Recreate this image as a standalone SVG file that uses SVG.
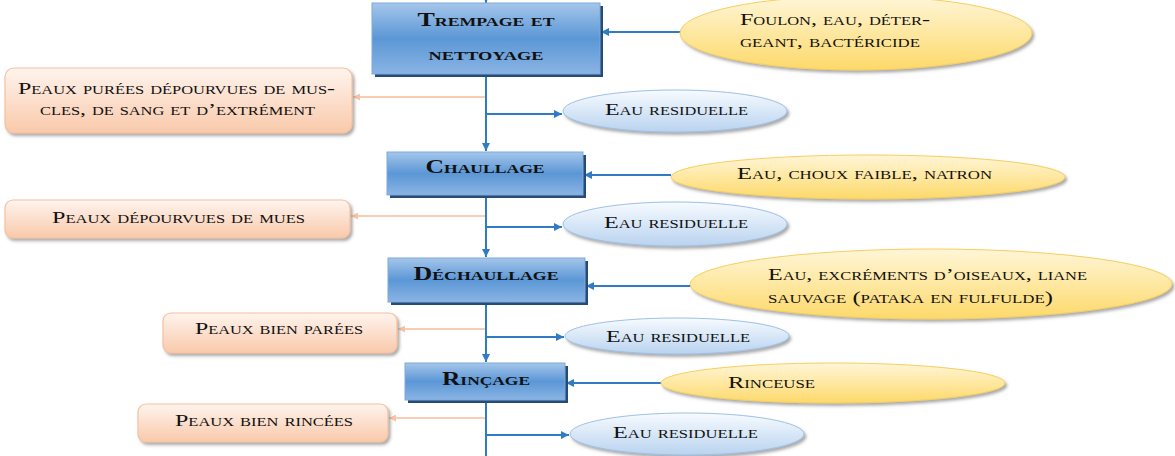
<svg xmlns="http://www.w3.org/2000/svg" width="1175" height="456" viewBox="0 0 1175 456">
  <defs>
    <linearGradient id="gBlue" x1="0" y1="0" x2="0" y2="1">
      <stop offset="0" stop-color="#a5c6ea"/>
      <stop offset="0.5" stop-color="#5b97d6"/>
      <stop offset="1" stop-color="#8ab4e4"/>
    </linearGradient>
    <linearGradient id="gPeach" x1="0" y1="0" x2="0" y2="1">
      <stop offset="0" stop-color="#fff4ee"/>
      <stop offset="1" stop-color="#f9c9aa"/>
    </linearGradient>
    <linearGradient id="gYellow" x1="0" y1="0" x2="0" y2="1">
      <stop offset="0" stop-color="#fff6d8"/>
      <stop offset="1" stop-color="#fdd96a"/>
    </linearGradient>
    <linearGradient id="gSky" x1="0" y1="0" x2="0" y2="1">
      <stop offset="0" stop-color="#f7fbff"/>
      <stop offset="1" stop-color="#b9d3ef"/>
    </linearGradient>
    <filter id="soft" x="-10%" y="-20%" width="125%" height="150%">
      <feDropShadow dx="2" dy="2.5" stdDeviation="1.4" flood-color="#6f6f6f" flood-opacity="0.6"/>
    </filter>
    <marker id="aBlue" viewBox="0 0 8 8" refX="8" refY="4" markerWidth="8" markerHeight="8" markerUnits="userSpaceOnUse" orient="auto">
      <path d="M0,0 L8,4 L0,8 z" fill="#2f7bc4"/>
    </marker>
    <marker id="aPeach" viewBox="0 0 8 8" refX="8" refY="4" markerWidth="7" markerHeight="7" markerUnits="userSpaceOnUse" orient="auto">
      <path d="M0,0 L8,4 L0,8 z" fill="#f6c3a3"/>
    </marker>
    <style>
      .step { fill: url(#gBlue); stroke: #7fa9dc; stroke-width: 1; }
      .stepShadow { fill: #274b77; }
      .out { fill: url(#gPeach); stroke: #f6c1a0; stroke-width: 1.2; filter: url(#soft); }
      .inp { fill: url(#gYellow); stroke: #f7cf5c; stroke-width: 1; filter: url(#soft); }
      .waste { fill: url(#gSky); stroke: #9fc1e6; stroke-width: 1; filter: url(#soft); }
      text { font-family: "Liberation Serif", "DejaVu Serif", serif; font-variant: small-caps; fill: #111; font-size: 17.5px; }
      .title { font-weight: bold; font-size: 19px; }
      .flow { stroke: #2f7bc4; stroke-width: 2; fill: none; }
      .side { stroke: #f8cdb1; stroke-width: 1.8; fill: none; }
    </style>
  </defs>

  <!-- connectors -->
  <g id="connectors">
    <!-- main vertical flow -->
    <line class="flow" x1="486" y1="-6" x2="486" y2="3" marker-end="url(#aBlue)"/>
    <line class="flow" x1="486" y1="76" x2="486" y2="151" marker-end="url(#aBlue)"/>
    <line class="flow" x1="486" y1="196" x2="486" y2="257" marker-end="url(#aBlue)"/>
    <line class="flow" x1="486" y1="303" x2="486" y2="362" marker-end="url(#aBlue)"/>
    <line class="flow" x1="486" y1="401" x2="486" y2="456"/>
    <!-- inputs into each step -->
    <line class="flow" x1="681" y1="32" x2="601" y2="32" marker-end="url(#aBlue)"/>
    <line class="flow" x1="671" y1="175" x2="584" y2="175" marker-end="url(#aBlue)"/>
    <line class="flow" x1="691" y1="286" x2="586" y2="286" marker-end="url(#aBlue)"/>
    <line class="flow" x1="661" y1="383" x2="566" y2="383" marker-end="url(#aBlue)"/>
    <!-- waste water outputs -->
    <line class="flow" x1="486" y1="114" x2="562" y2="114" marker-end="url(#aBlue)"/>
    <line class="flow" x1="486" y1="227" x2="562" y2="227" marker-end="url(#aBlue)"/>
    <line class="flow" x1="486" y1="337" x2="564" y2="337" marker-end="url(#aBlue)"/>
    <line class="flow" x1="486" y1="435" x2="569" y2="435" marker-end="url(#aBlue)"/>
    <!-- hide products -->
    <line class="side" x1="485" y1="97" x2="353" y2="97" marker-end="url(#aPeach)"/>
    <line class="side" x1="485" y1="216" x2="351" y2="216" marker-end="url(#aPeach)"/>
    <line class="side" x1="485" y1="329" x2="398" y2="329" marker-end="url(#aPeach)"/>
    <line class="side" x1="485" y1="418" x2="389" y2="418" marker-end="url(#aPeach)"/>
  </g>

  <!-- process steps -->
  <g id="trempage">
    <rect class="stepShadow" x="375" y="6" width="228" height="71"/>
    <rect class="step" x="372" y="3" width="228" height="71"/>
    <text class="title" x="486" y="26" text-anchor="middle" textLength="137" lengthAdjust="spacingAndGlyphs">Trempage et</text>
    <text class="title" x="486" y="60" text-anchor="middle" textLength="115" lengthAdjust="spacingAndGlyphs">nettoyage</text>
  </g>
  <g id="chaullage">
    <rect class="stepShadow" x="390" y="155" width="196" height="43"/>
    <rect class="step" x="387" y="152" width="196" height="43"/>
    <text class="title" x="485" y="173" text-anchor="middle" textLength="119" lengthAdjust="spacingAndGlyphs">Chaullage</text>
  </g>
  <g id="dechaullage">
    <rect class="stepShadow" x="391" y="261" width="197" height="44"/>
    <rect class="step" x="388" y="258" width="197" height="44"/>
    <text class="title" x="486" y="280" text-anchor="middle" textLength="145" lengthAdjust="spacingAndGlyphs">Déchaullage</text>
  </g>
  <g id="rincage">
    <rect class="stepShadow" x="408" y="366" width="160" height="37"/>
    <rect class="step" x="405" y="363" width="160" height="37"/>
    <text class="title" x="486" y="385" text-anchor="middle" textLength="88" lengthAdjust="spacingAndGlyphs">Rinçage</text>
  </g>

  <!-- inputs -->
  <g id="input-trempage">
    <ellipse class="inp" cx="856" cy="33" rx="176" ry="37"/>
    <text x="740" y="25" textLength="190" lengthAdjust="spacingAndGlyphs">Foulon, eau, déter-</text>
    <text x="740" y="47" textLength="180" lengthAdjust="spacingAndGlyphs">geant, bactéricide</text>
  </g>
  <g id="input-chaullage">
    <ellipse class="inp" cx="868" cy="177" rx="197" ry="22"/>
    <text x="737" y="179" textLength="255" lengthAdjust="spacingAndGlyphs">Eau, choux faible, natron</text>
  </g>
  <g id="input-dechaullage">
    <ellipse class="inp" cx="931" cy="284" rx="241" ry="35"/>
    <text x="768" y="280" textLength="319" lengthAdjust="spacingAndGlyphs">Eau, excréments d’oiseaux, liane</text>
    <text x="768" y="303" textLength="285" lengthAdjust="spacingAndGlyphs">sauvage (pataka en fulfulde)</text>
  </g>
  <g id="input-rincage">
    <ellipse class="inp" cx="833" cy="383" rx="172" ry="20"/>
    <text x="728" y="388" textLength="87" lengthAdjust="spacingAndGlyphs">Rinceuse</text>
  </g>

  <!-- waste water -->
  <g id="waste-1">
    <ellipse class="waste" cx="675" cy="111" rx="112" ry="21"/>
    <text x="605" y="115" textLength="143" lengthAdjust="spacingAndGlyphs">Eau residuelle</text>
  </g>
  <g id="waste-2">
    <ellipse class="waste" cx="675" cy="224" rx="112" ry="22"/>
    <text x="604" y="228" textLength="144" lengthAdjust="spacingAndGlyphs">Eau residuelle</text>
  </g>
  <g id="waste-3">
    <ellipse class="waste" cx="677" cy="336" rx="112" ry="18"/>
    <text x="606" y="342" textLength="144" lengthAdjust="spacingAndGlyphs">Eau residuelle</text>
  </g>
  <g id="waste-4">
    <ellipse class="waste" cx="687" cy="434" rx="117" ry="21"/>
    <text x="613" y="438" textLength="145" lengthAdjust="spacingAndGlyphs">Eau residuelle</text>
  </g>

  <!-- hide products -->
  <g id="peaux-1">
    <rect class="out" x="5" y="68" width="347" height="65" rx="9"/>
    <text x="18" y="94" textLength="317" lengthAdjust="spacingAndGlyphs">Peaux purées dépourvues de mus-</text>
    <text x="40" y="115" textLength="275" lengthAdjust="spacingAndGlyphs">cles, de sang et d’extrément</text>
  </g>
  <g id="peaux-2">
    <rect class="out" x="5" y="200" width="345" height="38" rx="8"/>
    <text x="52" y="223" textLength="253" lengthAdjust="spacingAndGlyphs">Peaux dépourvues de mues</text>
  </g>
  <g id="peaux-3">
    <rect class="out" x="163" y="313" width="234" height="40" rx="8"/>
    <text x="195" y="334" textLength="168" lengthAdjust="spacingAndGlyphs">Peaux bien parées</text>
  </g>
  <g id="peaux-4">
    <rect class="out" x="138" y="404" width="250" height="38" rx="8"/>
    <text x="175" y="426" textLength="178" lengthAdjust="spacingAndGlyphs">Peaux bien rincées</text>
  </g>
</svg>
